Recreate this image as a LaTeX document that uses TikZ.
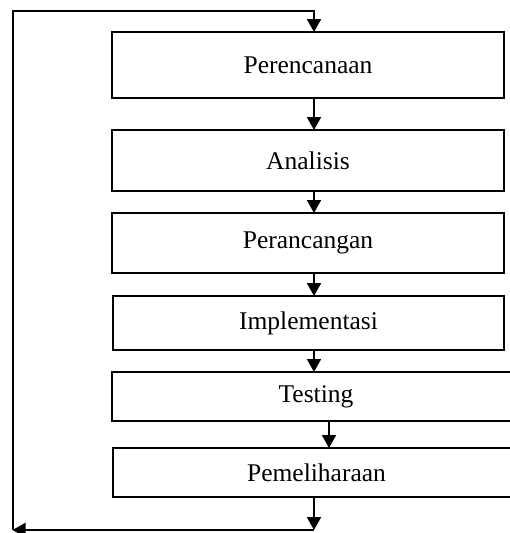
\documentclass[tikz,border=0pt]{standalone}
\usepackage{fontspec}
\setmainfont{Liberation Serif}
\usetikzlibrary{arrows.meta}
\begin{document}
\begin{tikzpicture}[x=1pt,y=-1pt,
  box/.style={draw,line width=2pt,rectangle,inner sep=0pt,outer sep=0pt,
    font=\fontsize{25.5}{30}\selectfont},
  arr/.style={line width=2pt,-{Triangle[length=13pt,width=14pt]}},
  ln/.style={line width=2pt}]
\useasboundingbox (0,0) rectangle (510,533);
\node[box,minimum width=392pt,minimum height=66pt] (b1) at (308,65) {Perencanaan};
\node[box,minimum width=392pt,minimum height=61pt] (b2) at (308,160.5) {Analisis};
\node[box,minimum width=392pt,minimum height=60pt] (b3) at (308,243) {Perancangan};
\node[box,minimum width=391pt,minimum height=54pt] (b4) at (308.5,323) {Implementasi};
\node[box,minimum width=408pt,minimum height=49pt] (b5) at (316,396.5) {Testing};
\node[box,minimum width=407pt,minimum height=49pt] (b6) at (316.5,472.5) {Pemeliharaan};
\coordinate (ax) at (314,0);
\coordinate (ax2) at (329,0);
\coordinate (c1) at (314,530);
\coordinate (c2) at (12.5,530);
\coordinate (c3) at (12.5,11);
\coordinate (c4) at (314,11);
\draw[arr] (b1.south -| ax) -- (b2.north -| ax);
\draw[arr] (b2.south -| ax) -- (b3.north -| ax);
\draw[arr] (b3.south -| ax) -- (b4.north -| ax);
\draw[arr] (b4.south -| ax) -- (b5.north -| ax);
\draw[arr] (b5.south -| ax2) -- (b6.north -| ax2);
\draw[arr] (b6.south -| ax) -- (c1);
\draw[arr] (c1) -- (c2);
\draw[arr,line join=miter] (c2) -- (c3) -- (c4) -- (b1.north -| ax);
\end{tikzpicture}
\end{document}
